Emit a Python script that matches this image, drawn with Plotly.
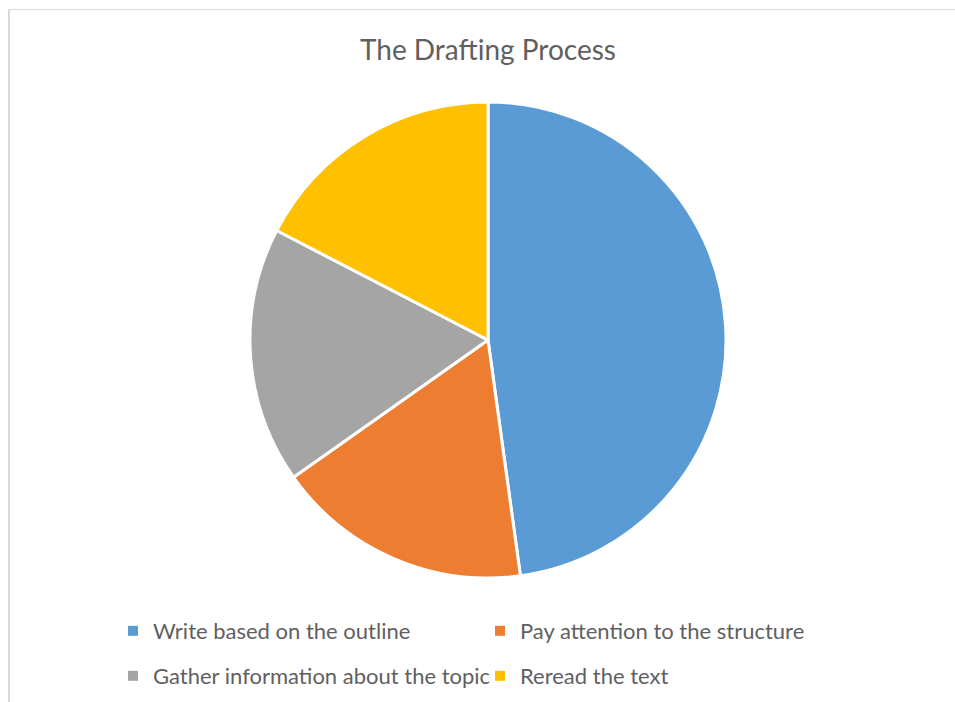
import plotly.graph_objects as go

categories = ["Write based on the outline", "Pay attention to the structure",
              "Gather information about the topic", "Reread the text"]
values = [11, 4, 4, 4]
colors = ["#5B9BD5", "#ED7D31", "#A5A5A5", "#FFC000"]

W, H = 955, 702
def px(x): return x / W
def py(y): return 1 - y / H

cx, cy, r = 488, 340, 238

fig = go.Figure()
fig.add_trace(go.Pie(
    labels=categories, values=values, sort=False, direction="clockwise", rotation=0,
    marker=dict(colors=colors, line=dict(color="white", width=3)),
    textinfo="none", showlegend=False,
    domain=dict(x=[px(cx - r), px(cx + r)], y=[py(cy + r), py(cy - r)]),
))

# legend entries (two rows, two columns)
legend_ids = ["legend", "legend", "legend2", "legend2"]
for cat, col, lg in zip(categories, colors, legend_ids):
    fig.add_trace(go.Scatter(
        x=[None], y=[None], mode="markers", name=cat, legend=lg,
        marker=dict(symbol="square", size=10, color=col), showlegend=True,
    ))

legend_common = dict(orientation="h", xanchor="left", yanchor="middle",
                     font=dict(family="Lato", size=22, color="#5F5F5F"),
                     entrywidth=322, entrywidthmode="pixels",
                     bgcolor="rgba(0,0,0,0)", itemclick=False, itemdoubleclick=False)

fig.update_layout(
    width=W, height=H,
    margin=dict(l=0, r=0, t=0, b=0),
    paper_bgcolor="white", plot_bgcolor="white",
    xaxis=dict(visible=False), yaxis=dict(visible=False),
    title=dict(text="The Drafting Process", x=px(488), y=py(50), xref="paper", yref="paper",
               xanchor="center", yanchor="middle",
               font=dict(family="Lato", size=28, color="#5F5F5F")),
    legend=dict(x=px(113), y=py(631), **legend_common),
    legend2=dict(x=px(113), y=py(676), **legend_common),
    shapes=[
        dict(type="line", xref="paper", yref="paper", x0=px(8), x1=1, y0=py(9.5), y1=py(9.5),
             line=dict(color="#D9D9D9", width=1)),
        dict(type="line", xref="paper", yref="paper", x0=px(9), x1=px(9), y0=py(9), y1=0,
             line=dict(color="#D9D9D9", width=2)),
    ],
)

fig.write_html("out.html")
